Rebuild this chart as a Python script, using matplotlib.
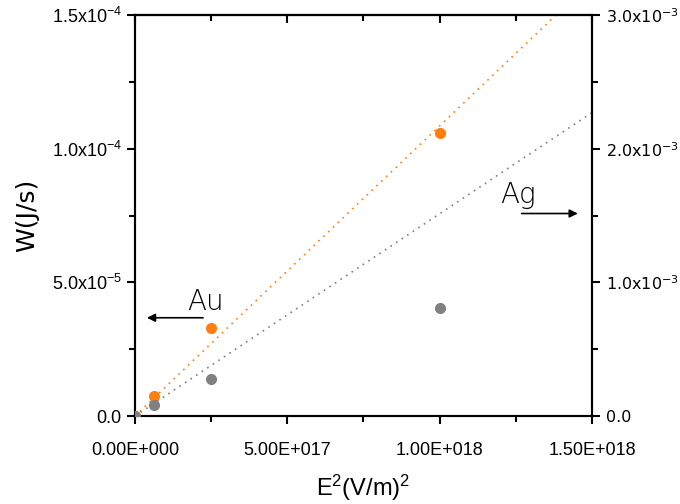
import matplotlib

matplotlib.use("Agg")
import matplotlib.pyplot as plt
from matplotlib.ticker import FixedLocator, NullFormatter

plt.rcParams["mathtext.default"] = "regular"

# measured points
e2 = [0.0, 6.25e16, 2.5e17, 1.0e18]
w_au = [0.0, 7.5e-6, 3.3e-5, 1.06e-4]
w_ag = [0.0, 8.2e-5, 2.77e-4, 8.08e-4]

# dotted trend lines (as drawn in the original)
trend_x = [0.0, 1.5e18]
au_trend = [0.0, 1.628e-4]
ag_trend = [0.0, 2.27e-3]

left_ticks = [0.0, 5e-5, 1e-4, 1.5e-4]
left_labels = ["0.0", "5.0x10$^{-5}$", "1.0x10$^{-4}$", "1.5x10$^{-4}$"]
right_ticks = [0.0, 1e-3, 2e-3, 3e-3]
right_labels = ["0.0", "1.0x10$^{-3}$", "2.0x10$^{-3}$", "3.0x10$^{-3}$"]
x_ticks = [0.0, 5e17, 1e18, 1.5e18]
x_minor = [2.5e17, 7.5e17, 1.25e18]
x_labels = ["0.00E+000", "5.00E+017", "1.00E+018", "1.50E+018"]

orange = "#ff7f0e"
gray = "#808080"

fig = plt.figure(figsize=(6.8, 5.04), dpi=100)
ax = fig.add_axes([0.1985, 0.1746, 0.6721, 0.7956])
ax2 = ax.twinx()

ax.plot(trend_x, au_trend, linestyle=(0, (1, 3)), color=orange, linewidth=1.2)
ax.plot(e2, w_au, "o", color=orange, markersize=7, zorder=3)
ax2.plot(trend_x, ag_trend, linestyle=(0, (1, 3)), color=gray, linewidth=1.2)
ax2.plot(e2, w_ag, "o", color=gray, markersize=7, zorder=3)

ax.set_xlim(0, 1.5e18)
ax.set_ylim(0, 1.5e-4)
ax2.set_ylim(0, 3e-3)

ax.xaxis.set_major_locator(FixedLocator(x_ticks))
ax.xaxis.set_minor_locator(FixedLocator(x_minor))
ax.set_xticklabels(x_labels, fontfamily="Liberation Sans", fontsize=13)
ax.yaxis.set_major_locator(FixedLocator(left_ticks))
ax.yaxis.set_minor_locator(FixedLocator([2.5e-5, 7.5e-5, 1.25e-4]))
ax.set_yticklabels(left_labels, fontfamily="Liberation Sans", fontsize=13)
ax2.yaxis.set_major_locator(FixedLocator(right_ticks))
ax2.yaxis.set_minor_locator(FixedLocator([5e-4, 1.5e-3, 2.5e-3]))
ax2.set_yticklabels(right_labels, fontfamily="DejaVu Sans", fontsize=11.5)

# top axis: inward ticks, no labels
top = ax.secondary_xaxis("top")
top.xaxis.set_major_locator(FixedLocator(x_ticks))
top.xaxis.set_minor_locator(FixedLocator(x_minor))
top.xaxis.set_major_formatter(NullFormatter())
top.tick_params(which="major", direction="in", length=6, width=1.5)
top.tick_params(which="minor", direction="in", length=4, width=1.5)
top.spines["top"].set_linewidth(1.5)

for a in (ax, ax2):
    for s in a.spines.values():
        s.set_linewidth(1.5)
ax.tick_params(axis="x", which="major", direction="out", length=6, width=1.5, pad=13, top=False)
ax.tick_params(axis="x", which="minor", direction="out", length=4, width=1.5, top=False)
ax.tick_params(axis="y", which="major", direction="out", length=6, width=1.5)
ax.tick_params(axis="y", which="minor", direction="out", length=4, width=1.5)
ax2.tick_params(which="major", direction="out", length=6, width=1.5, pad=4)
ax2.tick_params(which="minor", direction="out", length=4, width=1.5)

ax.set_xlabel("E$^{2}$(V/m)$^{2}$", fontfamily="Liberation Sans", fontsize=17, labelpad=10)
ax.set_ylabel("W(J/s)", fontfamily="DejaVu Sans", fontsize=18, labelpad=9)

ax.text(0.115, 0.265, "Au", transform=ax.transAxes, fontsize=20, fontweight="light")
ax.annotate("", xy=(0.02, 0.245), xytext=(0.155, 0.245), xycoords="axes fraction",
            arrowprops=dict(arrowstyle="-|>", color="black", lw=1.2, mutation_scale=12))
ax.text(0.8, 0.53, "Ag", transform=ax.transAxes, fontsize=20, fontweight="light")
ax.annotate("", xy=(0.975, 0.505), xytext=(0.84, 0.505), xycoords="axes fraction",
            arrowprops=dict(arrowstyle="-|>", color="black", lw=1.2, mutation_scale=12))

fig.savefig("out.png")
